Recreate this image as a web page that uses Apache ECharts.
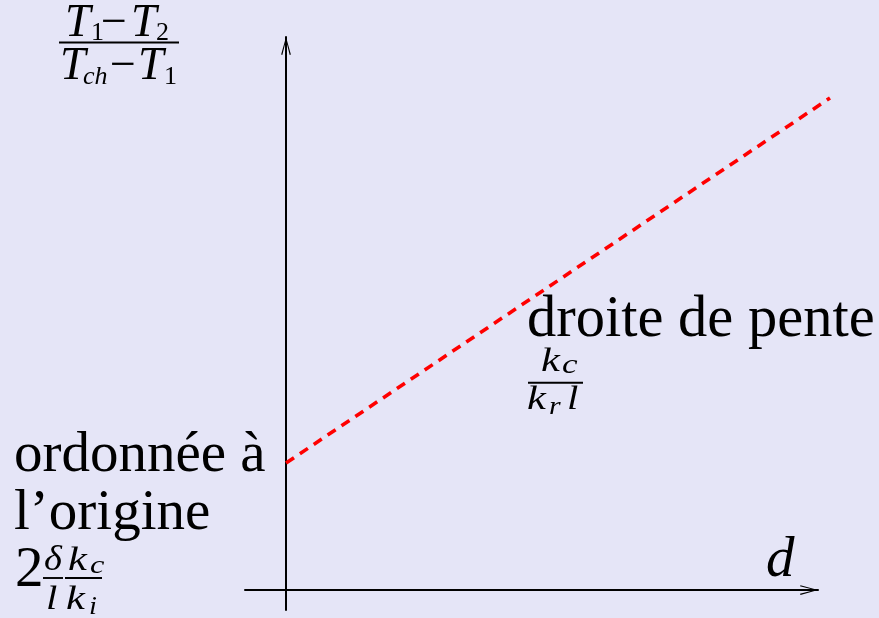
<!DOCTYPE html>
<html>
<head>
<meta charset="utf-8">
<title>Droite de pente</title>
<script src="https://cdn.jsdelivr.net/npm/echarts@6/dist/echarts.min.js"></script>
<style>
  html, body { margin: 0; padding: 0; background: #e5e5f7; }
  #chart { width: 879px; height: 618px; }
</style>
</head>
<body>
<div id="chart"></div>
<script>
// Linear relation: (T1 - T2)/(Tch - T1) against thickness d
const distance = [0, 10];        // d (arbitrary units)
const ratio = [1, 3.874];        // (T1 - T2)/(Tch - T1)

// Axis extents (arbitrary units, origin at 0,0)
const xRange = [-0.754, 9.779];  // drawn axis, ends at the arrow tip
const xRangeLine = [-0.754, 10]; // plotting frame of the line (same scale)
const yRange = [-0.157, 4.354];

const SERIF = '"Liberation Serif", "DejaVu Serif", serif';
const INK = '#000000';

// Text piece placed on its alphabetic baseline; sx widens math letters
function tx(x, baseline, s, size, italic, sx) {
  return {
    type: 'text',
    x: x,
    y: baseline - 0.3375 * size,
    scaleX: sx || 1,
    silent: true,
    style: {
      text: s,
      font: (italic ? 'italic ' : '') + size + 'px ' + SERIF,
      fill: INK,
      align: 'left',
      verticalAlign: 'middle'
    }
  };
}
function bar(x1, x2, y) {
  return {
    type: 'line',
    silent: true,
    shape: { x1: x1, y1: y, x2: x2, y2: y },
    style: { stroke: INK, lineWidth: 1.9 }
  };
}

const openArrow = 'path://M5,0 L10,18 L8.8,18.5 L5,3.4 L1.2,18.5 L0,18 Z';

const axisCommon = {
  type: 'value',
  axisLine: {
    show: true,
    onZero: true,
    symbol: ['none', openArrow],
    symbolSize: [10, 18],
    symbolOffset: [0, -9],
    lineStyle: { color: '#000000', width: 2 }
  },
  axisTick: { show: false },
  axisLabel: { show: false },
  splitLine: { show: false }
};
const hiddenAxis = {
  type: 'value',
  show: false,
  axisLine: { show: false },
  axisTick: { show: false },
  axisLabel: { show: false },
  splitLine: { show: false }
};

const chart = echarts.init(document.getElementById('chart'), null, { renderer: 'canvas' });

chart.setOption({
  backgroundColor: '#e5e5f7',
  animation: false,
  grid: [
    { left: 245, right: 61, top: 37, bottom: 8 },   // axes
    { left: 245, right: 49, top: 37, bottom: 8 }    // line frame, reaches d = 10
  ],
  xAxis: [
    Object.assign({}, axisCommon, { gridIndex: 0, min: xRange[0], max: xRange[1] }),
    Object.assign({}, hiddenAxis, { gridIndex: 1, min: xRangeLine[0], max: xRangeLine[1] })
  ],
  yAxis: [
    Object.assign({}, axisCommon, { gridIndex: 0, min: yRange[0], max: yRange[1] }),
    Object.assign({}, hiddenAxis, { gridIndex: 1, min: yRange[0], max: yRange[1] })
  ],
  series: [{
    type: 'line',
    xAxisIndex: 1,
    yAxisIndex: 1,
    data: distance.map((d, i) => [d, ratio[i]]),
    symbol: 'none',
    clip: false,
    lineStyle: { color: '#ff0000', width: 3.6, type: [9.6, 7.1] }
  }],
  graphic: [
    // y-axis quantity: (T1 - T2)/(Tch - T1)
    tx(65, 39, 'T', 46, true),
    tx(91, 42, '1', 26, false),
    tx(101, 39, '\u2212', 46, false),
    tx(131, 39, 'T', 46, true),
    tx(156, 42, '2', 26, false),
    bar(59, 179, 42.5),
    tx(60, 82, 'T', 46, true),
    tx(83, 86, 'ch', 26, true),
    tx(110, 82, '\u2212', 46, false),
    tx(138, 82, 'T', 46, true),
    tx(164, 86, '1', 26, false),

    // slope annotation
    tx(527, 340, 'droite de pente', 58.5, false),
    tx(541, 374, 'k', 34, true, 1.25),
    tx(562, 375, 'c', 27, true, 1.3),
    bar(528, 583, 382.7),
    tx(527, 412, 'k', 34, true, 1.25),
    tx(549, 416, 'r', 26, true, 1.15),
    tx(567, 412, 'l', 34, true, 1.2),

    // intercept annotation
    tx(14, 475, 'ordonnée à', 57, false),
    tx(14, 533, 'l\u2019origine', 57, false),
    tx(15, 590, '2', 57, false),
    tx(44, 573, '\u03b4', 35, true, 1.1),
    bar(43, 63, 578),
    tx(46, 612, 'l', 34, true, 1.2),
    tx(68, 573, 'k', 34, true, 1.25),
    tx(90, 575, 'c', 26, true, 1.25),
    bar(65, 102, 578),
    tx(66, 612, 'k', 34, true, 1.25),
    tx(89, 616, 'i', 26, true, 1.1),

    // x-axis quantity
    tx(766, 580, 'd', 57, true)
  ]
});
</script>
</body>
</html>
